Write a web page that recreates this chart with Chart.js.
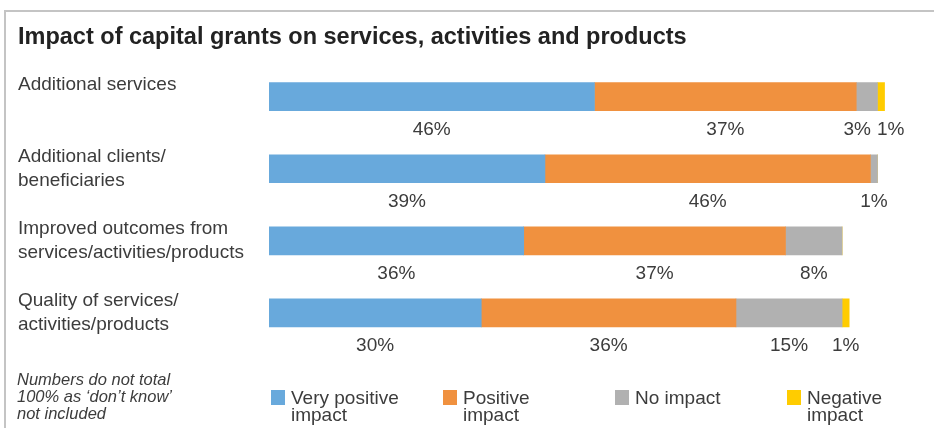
<!DOCTYPE html>
<html>
<head>
<meta charset="utf-8">
<script src="https://cdn.jsdelivr.net/npm/chart.js@4.4.1/dist/chart.umd.min.js"></script>
<style>
  html, body { margin: 0; padding: 0; background: #ffffff; }
  #wrap { width: 934px; height: 428px; position: relative; }
</style>
</head>
<body>
<div id="wrap"><canvas id="c" width="934" height="428"></canvas></div>
<script>
// ---- data ----
const categories = [
  ["Additional services", ""],
  ["Additional clients/", "beneficiaries"],
  ["Improved outcomes from", "services/activities/products"],
  ["Quality of services/", "activities/products"]
];
const seriesNames = [["Very positive", "impact"], ["Positive", "impact"], ["No impact"], ["Negative", "impact"]];
const veryPositive = [46, 39, 36, 30];
const positive = [37, 46, 37, 36];
const noImpact = [3, 1, 8, 15];
const negative = [1, 0, 0, 1];
const titleText = "Impact of capital grants on services, activities and products";
const footnote = ["Numbers do not total", "100% as \u2018don\u2019t know\u2019", "not included"];

// ---- styles ----
const colors = ["#68a9dc", "#f0913f", "#b1b1b1", "#ffcc00"];
const textColor = "#3c3c3c";
const baseFont = "'Liberation Sans', Arial, Helvetica, sans-serif";

const seriesValues = [veryPositive, positive, noImpact, negative];

const frame = {
  id: 'frame',
  beforeDraw(chart) {
    const ctx = chart.ctx;
    ctx.save();
    ctx.fillStyle = '#ffffff';
    ctx.fillRect(0, 0, chart.width, chart.height);
    ctx.strokeStyle = '#c4c4c4';
    ctx.lineWidth = 2;
    ctx.beginPath();
    ctx.moveTo(5, chart.height);
    ctx.lineTo(5, 11);
    ctx.lineTo(chart.width, 11);
    ctx.stroke();
    ctx.restore();
  }
};

const valueLabels = {
  id: 'valueLabels',
  afterDatasetsDraw(chart) {
    const ctx = chart.ctx;
    ctx.save();
    ctx.font = "19px " + baseFont;
    ctx.fillStyle = textColor;
    ctx.textAlign = 'center';
    ctx.textBaseline = 'middle';
    const n = chart.data.labels.length;
    for (let i = 0; i < n; i++) {
      const items = [];
      chart.data.datasets.forEach((ds, d) => {
        const v = ds.data[i];
        if (!v) return;
        const el = chart.getDatasetMeta(d).data[i];
        const cx = (el.x + el.base) / 2;
        const txt = v + '%';
        const w = ctx.measureText(txt).width;
        items.push({ x: cx, w, txt, y: el.y + el.height / 2 + 19 });
      });
      // simple overlap avoidance
      for (let k = 1; k < items.length; k++) {
        const a = items[k - 1], b = items[k];
        const gap = 6;
        const overlap = (a.x + a.w / 2 + gap) - (b.x - b.w / 2);
        if (overlap > 0) { a.x -= overlap / 2; b.x += overlap / 2; }
      }
      items.forEach(it => ctx.fillText(it.txt, it.x, it.y));
    }
    ctx.restore();
  }
};

const customLegend = {
  id: 'customLegend',
  afterDraw(chart) {
    const ctx = chart.ctx;
    const area = chart.chartArea;
    ctx.save();
    ctx.textBaseline = 'middle';
    ctx.textAlign = 'left';
    // legend
    ctx.font = "19px " + baseFont;
    const step = 172;
    chart.data.datasets.forEach((ds, d) => {
      const x0 = area.left + 2 + d * step;
      ctx.fillStyle = ds.backgroundColor;
      ctx.fillRect(x0, 390, 14, 15);
      ctx.fillStyle = textColor;
      seriesNames[d].forEach((line, j) => ctx.fillText(line, x0 + 20, 399 + j * 17));
    });
    // footnote
    ctx.font = "italic 16.5px " + baseFont;
    footnote.forEach((line, j) => ctx.fillText(line, 17, 380 + j * 17));
    ctx.restore();
  }
};

new Chart(document.getElementById('c'), {
  type: 'bar',
  data: {
    labels: categories,
    datasets: seriesValues.map((vals, d) => ({
      label: seriesNames[d].join(' '),
      data: vals,
      backgroundColor: colors[d],
      borderWidth: 0,
      barThickness: 28
    }))
  },
  options: {
    indexAxis: 'y',
    responsive: false,
    animation: false,
    layout: { padding: { left: 18, top: 14, right: 7, bottom: 79 } },
    scales: {
      x: { stacked: true, min: 0, max: 93, display: false },
      y: {
        stacked: true,
        grid: { display: false },
        border: { display: false },
        ticks: {
          crossAlign: 'far',
          color: textColor,
          font: { family: baseFont, size: 19, lineHeight: 1.26 },
          padding: 10
        },
        afterFit(scale) { scale.width = 251; }
      }
    },
    plugins: {
      legend: { display: false },
      tooltip: { enabled: false },
      title: {
        display: true,
        text: titleText,
        align: 'start',
        color: '#222222',
        font: { family: "'Liberation Sans Narrow', 'Arial Narrow', 'Liberation Sans', sans-serif", size: 23.5, weight: 'bold', lineHeight: 1.2 },
        padding: { top: 9, bottom: 9.4 }
      }
    }
  },
  plugins: [frame, valueLabels, customLegend]
});
</script>
</body>
</html>
